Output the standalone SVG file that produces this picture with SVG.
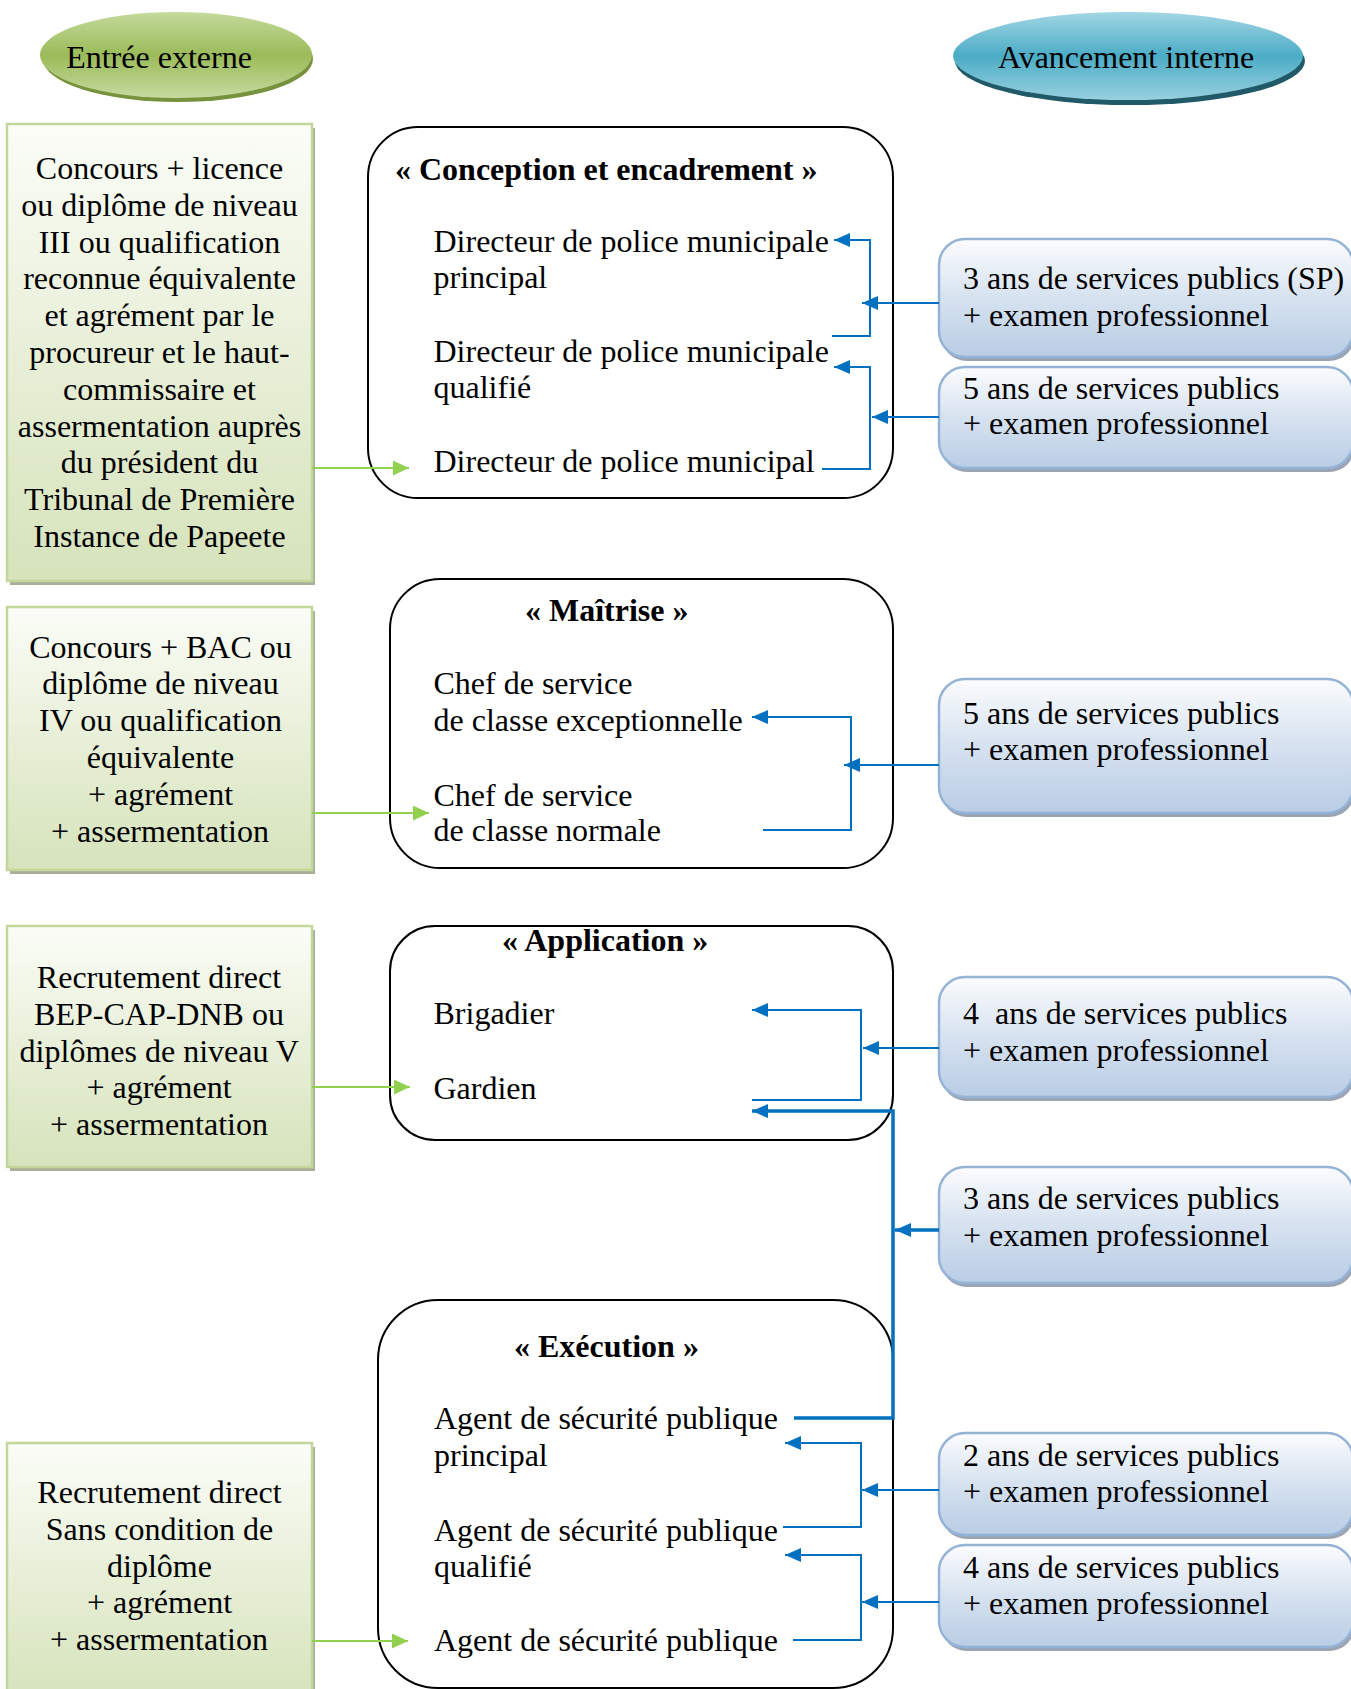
<svg xmlns="http://www.w3.org/2000/svg" width="1351" height="1689" viewBox="0 0 1351 1689">
  <defs>
    <linearGradient id="gEll" x1="0" y1="0" x2="0" y2="1">
      <stop offset="0" stop-color="#c4da9c"/>
      <stop offset="0.5" stop-color="#9bbb59"/>
      <stop offset="1" stop-color="#c6da9f"/>
    </linearGradient>
    <linearGradient id="bEll" x1="0" y1="0" x2="0" y2="1">
      <stop offset="0" stop-color="#a3d6e4"/>
      <stop offset="0.5" stop-color="#4bacc6"/>
      <stop offset="1" stop-color="#98d0de"/>
    </linearGradient>
    <linearGradient id="gBox" x1="0" y1="0" x2="0" y2="1">
      <stop offset="0" stop-color="#fbfdf7"/>
      <stop offset="0.55" stop-color="#e6eed5"/>
      <stop offset="1" stop-color="#d6e3bb"/>
    </linearGradient>
    <linearGradient id="bBox" x1="0" y1="0" x2="0" y2="1">
      <stop offset="0" stop-color="#fbfcfe"/>
      <stop offset="0.5" stop-color="#d6e2f0"/>
      <stop offset="1" stop-color="#b9cde5"/>
    </linearGradient>
    <marker id="arrBlue" markerWidth="16" markerHeight="14" refX="16" refY="7" orient="auto" markerUnits="userSpaceOnUse">
      <path d="M0,0 L16,7 L0,14 z" fill="#0070c0"/>
    </marker>
    <marker id="arrGreen" markerWidth="16" markerHeight="15" refX="16" refY="7.5" orient="auto" markerUnits="userSpaceOnUse">
      <path d="M0,0 L16,7.5 L0,15 z" fill="#92d050"/>
    </marker>
  </defs>
  <style>
    text { font-family: "Liberation Serif", "Times New Roman", serif; font-size: 32px; fill: #000; }
    .b { font-weight: bold; }
    .mid { text-anchor: middle; }
    .gbox { fill: url(#gBox); stroke: #c3d69b; stroke-width: 2.5; }
    .gsh { fill: #a8ae98; }
    .bbox { fill: url(#bBox); stroke: #95b3d7; stroke-width: 2.5; }
    .bsh { fill: #9aa4b2; }
    .grade { fill: #fff; stroke: #000; stroke-width: 2; }
    .blue { fill: none; stroke: #0070c0; stroke-width: 2; }
    .thick { fill: none; stroke: #0070c0; stroke-width: 3.5; }
    .green { fill: none; stroke: #92d050; stroke-width: 2; }
  </style>

  <!-- header ellipses -->
  <g id="entree-externe">
    <ellipse cx="178" cy="59" rx="135" ry="43" fill="#76923c"/>
    <ellipse cx="176" cy="55" rx="136" ry="43" fill="url(#gEll)"/>
    <text x="159" y="68" class="mid">Entrée externe</text>
  </g>
  <g id="avancement-interne">
    <ellipse cx="1130" cy="61" rx="175" ry="44" fill="#215968"/>
    <ellipse cx="1128" cy="56" rx="175" ry="44" fill="url(#bEll)"/>
    <text x="1126" y="68" class="mid">Avancement interne</text>
  </g>

  <!-- external entry conditions -->
  <g id="entree-1">
    <rect x="10" y="128" width="305" height="457" class="gsh"/>
    <rect x="7" y="124" width="305" height="457" class="gbox"/>
    <text class="mid">
      <tspan x="163.5" y="179">Concours + licence</tspan>
      <tspan x="163.5" y="215.8">ou diplôme de niveau</tspan>
      <tspan x="163.5" y="252.6">III ou qualification</tspan>
      <tspan x="163.5" y="289.4">reconnue équivalente</tspan>
      <tspan x="163.5" y="326.2">et agrément par le</tspan>
      <tspan x="163.5" y="363">procureur et le haut-</tspan>
      <tspan x="163.5" y="399.8">commissaire et</tspan>
      <tspan x="163.5" y="436.6">assermentation auprès</tspan>
      <tspan x="163.5" y="473.4">du président du</tspan>
      <tspan x="163.5" y="510.2">Tribunal de Première</tspan>
      <tspan x="159.5" y="547">Instance de Papeete</tspan>
    </text>
  </g>
  <g id="entree-2">
    <rect x="10" y="611" width="305" height="263" class="gsh"/>
    <rect x="7" y="607" width="305" height="263" class="gbox"/>
    <text class="mid">
      <tspan x="164.5" y="657.5">Concours + BAC ou</tspan>
      <tspan x="164.5" y="694.3">diplôme de niveau</tspan>
      <tspan x="164.5" y="731.1">IV ou qualification</tspan>
      <tspan x="164.5" y="767.9">équivalente</tspan>
      <tspan x="164.5" y="804.7">+ agrément</tspan>
      <tspan x="160" y="841.5">+ assermentation</tspan>
    </text>
  </g>
  <g id="entree-3">
    <rect x="10" y="930" width="305" height="241" class="gsh"/>
    <rect x="7" y="926" width="305" height="241" class="gbox"/>
    <text class="mid">
      <tspan x="163" y="988">Recrutement direct</tspan>
      <tspan x="163" y="1024.8">BEP-CAP-DNB ou</tspan>
      <tspan x="163" y="1061.6">diplômes de niveau V</tspan>
      <tspan x="163" y="1098.4">+ agrément</tspan>
      <tspan x="159" y="1135.2">+ assermentation</tspan>
    </text>
  </g>
  <g id="entree-4">
    <rect x="10" y="1447" width="305" height="260" class="gsh"/>
    <rect x="7" y="1443" width="305" height="260" class="gbox"/>
    <text class="mid">
      <tspan x="163.5" y="1503">Recrutement direct</tspan>
      <tspan x="163.5" y="1539.8">Sans condition de</tspan>
      <tspan x="163.5" y="1576.6">diplôme</tspan>
      <tspan x="163.5" y="1613.4">+ agrément</tspan>
      <tspan x="159" y="1650.2">+ assermentation</tspan>
    </text>
  </g>

  <!-- categories and grades -->
  <g id="conception">
    <rect x="368" y="127" width="525" height="371" rx="50" ry="50" class="grade"/>
    <text x="395" y="180" class="b">« Conception et encadrement »</text>
    <text x="433.5" y="252">Directeur de police municipale</text>
    <text x="433.5" y="288">principal</text>
    <text x="433.5" y="362">Directeur de police municipale</text>
    <text x="433.5" y="397.5">qualifié</text>
    <text x="433.5" y="471.5">Directeur de police municipal</text>
  </g>
  <g id="maitrise">
    <rect x="390" y="579" width="503" height="289" rx="50" ry="50" class="grade"/>
    <text x="525" y="621" class="b">« Maîtrise »</text>
    <text x="433.5" y="694">Chef de service</text>
    <text x="433.5" y="730.5">de classe exceptionnelle</text>
    <text x="433.5" y="805.5">Chef de service</text>
    <text x="433.5" y="841">de classe normale</text>
  </g>
  <g id="application">
    <rect x="390" y="926" width="503" height="214" rx="45" ry="45" class="grade"/>
    <text x="502" y="951" class="b">« Application »</text>
    <text x="433.5" y="1024">Brigadier</text>
    <text x="433.5" y="1098.5">Gardien</text>
  </g>
  <g id="execution">
    <rect x="378" y="1300" width="515" height="388" rx="60" ry="60" class="grade"/>
    <text x="514" y="1356.5" class="b">« Exécution »</text>
    <text x="434" y="1429">Agent de sécurité publique</text>
    <text x="434" y="1465.5">principal</text>
    <text x="434" y="1540.5">Agent de sécurité publique</text>
    <text x="434" y="1576.5">qualifié</text>
    <text x="434" y="1650.5">Agent de sécurité publique</text>
  </g>

  <!-- internal promotion conditions -->
  <g id="avancement-1">
    <rect x="941" y="243" width="414" height="118" rx="26" ry="26" class="bsh"/>
    <rect x="939" y="239" width="414" height="118" rx="26" ry="26" class="bbox"/>
    <text x="963" y="289">3 ans de services publics (SP)</text>
    <text x="963" y="326">+ examen professionnel</text>
  </g>
  <g id="avancement-2">
    <rect x="941" y="371" width="414" height="101" rx="26" ry="26" class="bsh"/>
    <rect x="939" y="367" width="414" height="101" rx="26" ry="26" class="bbox"/>
    <text x="963" y="399">5 ans de services publics</text>
    <text x="963" y="434">+ examen professionnel</text>
  </g>
  <g id="avancement-3">
    <rect x="941" y="683" width="414" height="134" rx="26" ry="26" class="bsh"/>
    <rect x="939" y="679" width="414" height="134" rx="26" ry="26" class="bbox"/>
    <text x="963" y="724">5 ans de services publics</text>
    <text x="963" y="760">+ examen professionnel</text>
  </g>
  <g id="avancement-4">
    <rect x="941" y="981" width="414" height="120" rx="26" ry="26" class="bsh"/>
    <rect x="939" y="977" width="414" height="120" rx="26" ry="26" class="bbox"/>
    <text x="963" y="1024" xml:space="preserve">4  ans de services publics</text>
    <text x="963" y="1060.5">+ examen professionnel</text>
  </g>
  <g id="avancement-5">
    <rect x="941" y="1171" width="414" height="116" rx="26" ry="26" class="bsh"/>
    <rect x="939" y="1167" width="414" height="116" rx="26" ry="26" class="bbox"/>
    <text x="963" y="1209">3 ans de services publics</text>
    <text x="963" y="1245.5">+ examen professionnel</text>
  </g>
  <g id="avancement-6">
    <rect x="941" y="1437" width="414" height="102" rx="26" ry="26" class="bsh"/>
    <rect x="939" y="1433" width="414" height="102" rx="26" ry="26" class="bbox"/>
    <text x="963" y="1465.5">2 ans de services publics</text>
    <text x="963" y="1502">+ examen professionnel</text>
  </g>
  <g id="avancement-7">
    <rect x="941" y="1549" width="414" height="102" rx="26" ry="26" class="bsh"/>
    <rect x="939" y="1545" width="414" height="102" rx="26" ry="26" class="bbox"/>
    <text x="963" y="1577.5">4 ans de services publics</text>
    <text x="963" y="1614">+ examen professionnel</text>
  </g>

  <!-- connectors -->
  <g id="connectors">
    <!-- external entry into the lowest grade of each category -->
    <path d="M312,468 H409" class="green" marker-end="url(#arrGreen)"/>
    <path d="M312,813 H429" class="green" marker-end="url(#arrGreen)"/>
    <path d="M312,1087 H410" class="green" marker-end="url(#arrGreen)"/>
    <path d="M312,1641 H408" class="green" marker-end="url(#arrGreen)"/>

    <!-- promotions inside each category -->
    <path d="M832,336 H870 V240 H834" class="blue" marker-end="url(#arrBlue)"/>
    <path d="M939,303 H862" class="blue" marker-end="url(#arrBlue)"/>
    <path d="M822,469 H870 V367 H834" class="blue" marker-end="url(#arrBlue)"/>
    <path d="M939,417 H872" class="blue" marker-end="url(#arrBlue)"/>

    <path d="M763,830 H851 V717 H752" class="blue" marker-end="url(#arrBlue)"/>
    <path d="M939,765 H844" class="blue" marker-end="url(#arrBlue)"/>

    <path d="M752,1100 H861 V1010 H752" class="blue" marker-end="url(#arrBlue)"/>
    <path d="M939,1048 H863" class="blue" marker-end="url(#arrBlue)"/>

    <path d="M794,1418 H893 V1111 H752" class="thick" marker-end="url(#arrBlue)"/>
    <path d="M939,1230 H895" class="thick" marker-end="url(#arrBlue)"/>

    <path d="M783,1527 H861 V1443 H785" class="blue" marker-end="url(#arrBlue)"/>
    <path d="M939,1490 H862" class="blue" marker-end="url(#arrBlue)"/>
    <path d="M793,1640 H861 V1555 H785" class="blue" marker-end="url(#arrBlue)"/>
    <path d="M939,1602 H862" class="blue" marker-end="url(#arrBlue)"/>
  </g>
</svg>
